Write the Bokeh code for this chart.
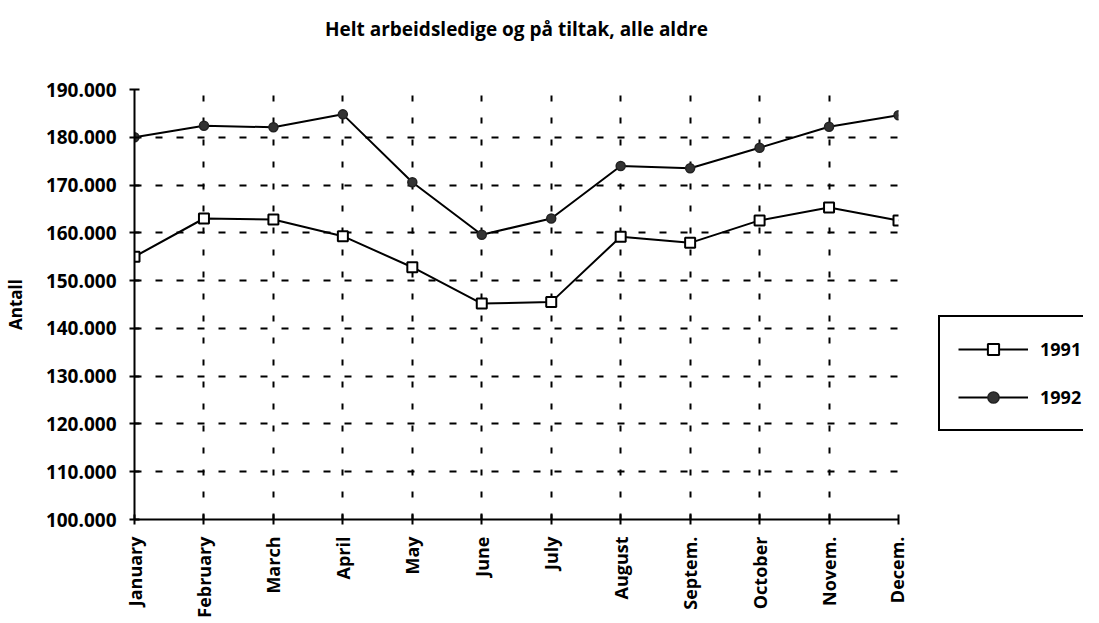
import math
from bokeh.plotting import figure
from bokeh.layouts import row
from bokeh.models import (FixedTicker, Legend, LegendItem, ColumnDataSource, Title)
from bokeh.embed import file_html
from bokeh.resources import INLINE

# ---- data ----
months = ["January", "February", "March", "April", "May", "June", "July",
          "August", "Septem.", "October", "Novem.", "Decem."]
values_1991 = [155000, 163000, 162800, 159300, 152800, 145200, 145500,
               159200, 157900, 162600, 165300, 162600]
values_1992 = [180000, 182400, 182100, 184800, 170600, 159600, 163000,
               174000, 173500, 177800, 182200, 184600]
y_ticks = [100000, 110000, 120000, 130000, 140000, 150000, 160000,
           170000, 180000, 190000]
y_tick_labels = ["100.000", "110.000", "120.000", "130.000", "140.000",
                 "150.000", "160.000", "170.000", "180.000", "190.000"]
title_text = "Helt arbeidsledige og på tiltak, alle aldre"
y_label = "Antall"
series_names = ["1991", "1992"]

FONT = "Open Sans"
idx = list(range(len(months)))

src = ColumnDataSource(dict(x=idx, y1991=values_1991, y1992=values_1992))

H = 620
p = figure(width=908, height=H, output_backend="svg", toolbar_location=None,
           x_range=(idx[0], idx[-1]), y_range=(y_ticks[0], y_ticks[-1]),
           min_border_left=128, min_border_right=10, min_border_top=89,
           min_border_bottom=100, outline_line_color=None,
           background_fill_color="white", border_fill_color="white")

p.title.text = ""
p.title.standoff = 0
spacer = Title(text=" ", text_font_size="10px", standoff=35)
p.add_layout(spacer, "above")
main_title = Title(text=title_text, align="center", text_font=FONT,
                   text_font_style="bold", text_font_size="19px",
                   text_color="black", standoff=0)
p.add_layout(main_title, "above")

# axes
for ax in (p.xaxis[0], p.yaxis[0]):
    ax.axis_line_width = 2
    ax.axis_line_color = "black"
    ax.major_tick_line_width = 2
    ax.major_tick_line_color = "black"
    ax.major_tick_in = 5
    ax.major_tick_out = 5
    ax.minor_tick_line_color = None
    ax.major_label_text_font = FONT
    ax.major_label_text_font_style = "bold"
    ax.major_label_text_color = "black"

p.xaxis.major_label_text_font_size = "18px"
p.yaxis.major_label_text_font_size = "19px"

p.xaxis.ticker = FixedTicker(ticks=idx)
p.xaxis.major_label_overrides = {i: m for i, m in zip(idx, months)}
p.xaxis.major_label_orientation = math.pi / 2
p.xaxis.major_label_standoff = 12

p.yaxis.ticker = FixedTicker(ticks=y_ticks)
p.yaxis.major_label_overrides = {t: l for t, l in zip(y_ticks, y_tick_labels)}
p.yaxis.major_label_standoff = 13
p.yaxis.axis_label = y_label
p.yaxis.axis_label_text_font = FONT
p.yaxis.axis_label_text_font_style = "bold"
p.yaxis.axis_label_text_font_size = "17px"
p.yaxis.axis_label_text_color = "black"
p.yaxis.axis_label_standoff = 16

# grids
p.xgrid.grid_line_color = "black"
p.xgrid.grid_line_width = 2
p.xgrid.grid_line_dash = "6 16"
p.ygrid.grid_line_color = "black"
p.ygrid.grid_line_width = 2
p.ygrid.grid_line_dash = "7 14"

# series
line_kw = dict(line_color="black", line_width=2)
sq_kw = dict(marker="square", size=10, fill_color="white",
             line_color="black", line_width=2)
ci_kw = dict(marker="circle", size=9, fill_color="#333333",
             line_color="#222222", line_width=1.5)
p.line("x", "y1991", source=src, **line_kw)
p.scatter("x", "y1991", source=src, **sq_kw)
p.line("x", "y1992", source=src, **line_kw)
p.scatter("x", "y1992", source=src, **ci_kw)

# legend panel (separate figure so that the box can sit outside the plot frame);
# its renderers use the same data, which lies outside this panel's ranges
q = figure(width=175, height=H, output_backend="svg", toolbar_location=None,
           x_axis_type=None, y_axis_type=None, x_range=(0, 1), y_range=(0, 1),
           min_border=0, outline_line_color=None,
           background_fill_color="white", border_fill_color="white")
q.grid.visible = False
ql1 = q.line("x", "y1991", source=src, **line_kw)
qs1 = q.scatter("x", "y1991", source=src, **sq_kw)
ql2 = q.line("x", "y1992", source=src, **line_kw)
qs2 = q.scatter("x", "y1992", source=src, **ci_kw)

legend = Legend(items=[LegendItem(label=series_names[0], renderers=[ql1, qs1]),
                       LegendItem(label=series_names[1], renderers=[ql2, qs2])],
                location=(30, 88), orientation="vertical",
                glyph_width=70, glyph_height=28, label_height=28,
                label_standoff=12, spacing=20, padding=18, margin=0,
                border_line_color="black", border_line_width=2,
                border_line_alpha=1.0,
                background_fill_color="white", background_fill_alpha=1,
                label_text_font=FONT, label_text_font_style="bold",
                label_text_font_size="18px", label_text_color="black")
q.add_layout(legend, "center")

layout = row(p, q)
open("out.html", "w").write(file_html(layout, INLINE))
